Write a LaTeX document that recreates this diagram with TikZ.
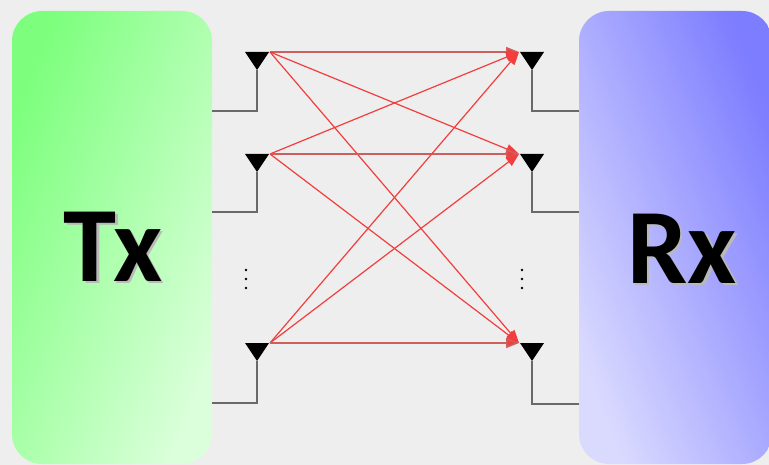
\documentclass[tikz,border=0pt]{standalone}
\usepackage{fontspec}
\setsansfont{Carlito}
\usepackage{tikz}
\usetikzlibrary{arrows.meta}
\usetikzlibrary{shapes,positioning,calc}
\definecolor{bg}{RGB}{238,238,238}
\definecolor{txdark}{RGB}{125,255,125}
\definecolor{txlight}{RGB}{218,255,218}
\definecolor{rxdark}{RGB}{125,125,255}
\definecolor{rxlight}{RGB}{218,218,255}
\definecolor{wire}{RGB}{105,105,105}
\definecolor{ray}{RGB}{242,62,62}
\definecolor{rayflat}{RGB}{205,95,95}
% big label with a soft grey drop shadow
\newcommand{\shadowtext}[1]{\makebox[0pt][l]{\hspace{2.5pt}\raisebox{-2.5pt}{\textcolor{gray!55}{#1}}}#1}

\begin{document}
\begin{tikzpicture}[x=1pt,y=-1pt,>={Triangle[length=13pt,width=10pt]},
		box/.style={rectangle, rounded corners=30pt, inner sep=0pt},
		feed/.style={wire, line width=1.3pt},
		link/.style={ray, line width=1.2pt, ->},
		label/.style={font=\sffamily\bfseries\fontsize{107}{107}\selectfont, inner sep=0pt}]
			\clip (0,0) rectangle (769,465);
			\fill[bg] (0,0) rectangle (769,465);
			% transmitter and receiver blocks
			\node[box, minimum width=200pt, minimum height=453pt,
				left color=txdark, right color=txlight, shading angle=68] (tx) at (112,237.5) {};
			\node[box, minimum width=193pt, minimum height=453pt,
				left color=rxlight, right color=rxdark, shading angle=112] (rx) at (675.5,237.5) {};
			\node[label] (txlabel) at (113,248) {\shadowtext{Tx}};
			\node[label] (rxlabel) at (682,250) {\shadowtext{Rx}};
			% antennas: top of triangle, feed height
			\foreach \y/\f [count=\i] in {52/111, 154/212, 343/403} {
				\fill (245,\y) -- (269,\y) -- (257,\y+18) -- cycle;
				\draw[feed] (257,\y+18) -- (257,\f) -- (tx.east |- 0,\f);
				\coordinate (t\i) at (270,\y);
			}
			\foreach \y/\f [count=\i] in {52/111, 154/212, 343/404} {
				\fill (520,\y) -- (544,\y) -- (532,\y+18) -- cycle;
				\draw[feed] (532,\y+18) -- (532,\f) -- (rx.west |- 0,\f);
				\coordinate (r\i) at (519,\y);
			}
			\foreach \x in {246,522}
				\foreach \y in {270,279,288}
					\fill (\x,\y) circle (1.4pt);
			% every transmit antenna reaches every receive antenna
			\foreach \i in {1,2,3}
				\foreach \j in {1,2,3} {
					\ifnum\i=\j
						\draw[link, rayflat, line width=1.6pt, -{Triangle[length=13pt,width=10pt,fill=ray]}] (t\i) -- (r\j);
					\else
						\draw[link] (t\i) -- (r\j);
					\fi
				}
		\end{tikzpicture}
\end{document}
